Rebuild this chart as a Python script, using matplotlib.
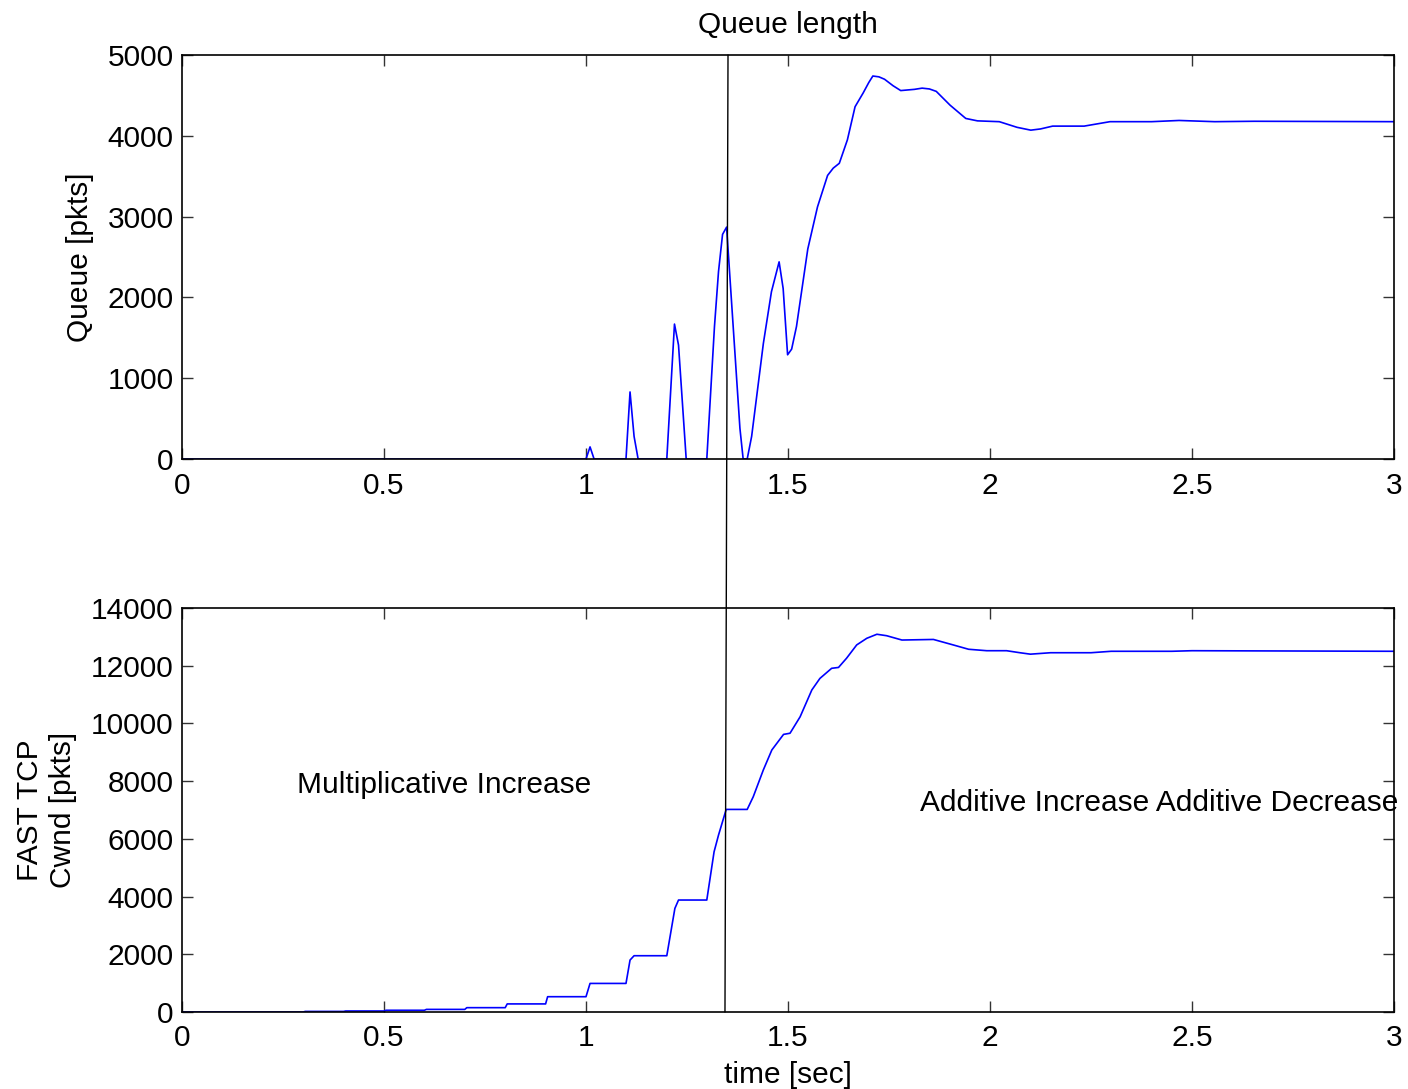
import matplotlib
matplotlib.use("Agg")
import matplotlib.pyplot as plt
from matplotlib.patches import ConnectionPatch

plt.rcParams['font.family'] = ['Liberation Sans', 'DejaVu Sans']

# ---- data ----
queue_t = [0, 1.0, 1.01, 1.02, 1.099, 1.109, 1.119, 1.129, 1.200, 1.219, 1.229, 1.248,
           1.299, 1.318, 1.328, 1.338, 1.348, 1.381, 1.389, 1.399, 1.410, 1.439, 1.459,
           1.478, 1.488, 1.499, 1.509, 1.521, 1.549, 1.573, 1.598, 1.612, 1.627, 1.647,
           1.666, 1.686, 1.700, 1.710, 1.725, 1.739, 1.760, 1.779, 1.813, 1.832, 1.850,
           1.867, 1.901, 1.940, 1.969, 2.023, 2.067, 2.101, 2.125, 2.155, 2.233, 2.297,
           2.400, 2.468, 2.556, 2.654, 3.0]
queue_q = [0, 0, 150, 0, 0, 830, 280, 0, 0, 1670, 1410, 0,
           0, 1640, 2320, 2780, 2870, 380, 0, 0, 280, 1430, 2070,
           2440, 2110, 1290, 1360, 1640, 2600, 3120, 3510, 3600, 3660, 3950,
           4360, 4530, 4660, 4740, 4730, 4700, 4620, 4560, 4575, 4590, 4580,
           4550, 4380, 4215, 4185, 4175, 4105, 4070, 4085, 4120, 4120, 4175,
           4175, 4190, 4175, 4180, 4175]

cwnd_t = [0, 0.3, 0.305, 0.4, 0.405, 0.5, 0.505, 0.6, 0.605, 0.7, 0.705, 0.8, 0.805,
          0.9, 0.905, 1.0, 1.01, 1.099, 1.109, 1.119, 1.2, 1.220, 1.229, 1.299, 1.317,
          1.328, 1.347, 1.399, 1.414, 1.439, 1.460, 1.489, 1.505, 1.530, 1.559, 1.579,
          1.608, 1.625, 1.645, 1.670, 1.695, 1.720, 1.744, 1.782, 1.860, 1.909, 1.947,
          1.992, 2.041, 2.074, 2.10, 2.15, 2.25, 2.30, 2.45, 2.5, 3.0]
cwnd_w = [0, 0, 20, 20, 35, 35, 60, 60, 90, 90, 150, 150, 280,
          280, 530, 530, 990, 990, 1800, 1950, 1950, 3590, 3880, 3880, 5550,
          6130, 7020, 7020, 7460, 8390, 9080, 9620, 9660, 10230, 11160, 11560,
          11910, 11940, 12260, 12720, 12950, 13090, 13040, 12890, 12910, 12720, 12570,
          12520, 12520, 12450, 12400, 12450, 12450, 12500, 12500, 12520, 12500]

xticks = [0, 0.5, 1, 1.5, 2, 2.5, 3]
xticklabels = ['0', '0.5', '1', '1.5', '2', '2.5', '3']
q_ticks = [0, 1000, 2000, 3000, 4000, 5000]
w_ticks = [0, 2000, 4000, 6000, 8000, 10000, 12000, 14000]

marker_t_top = 1.3515
marker_t_bottom = 1.344

# ---- figure ----
fig = plt.figure(figsize=(14.08, 10.89), dpi=100)
ax1 = fig.add_axes([0.12926, 0.5785, 0.8608, 0.37098])
ax2 = fig.add_axes([0.12926, 0.07071, 0.8608, 0.37098])

blue = '#0000ff'
ax1.plot(queue_t, queue_q, color=blue, lw=1.2)
ax2.plot(cwnd_t, cwnd_w, color=blue, lw=1.2)

ax1.set_xlim(0, 3)
ax1.set_ylim(0, 5000)
ax2.set_xlim(0, 3)
ax2.set_ylim(0, 14000)

fs = 21.5
for ax, yt in ((ax1, q_ticks), (ax2, w_ticks)):
    ax.set_xticks(xticks)
    ax.set_xticklabels(xticklabels)
    ax.set_yticks(yt)
    ax.set_yticklabels([str(v) for v in yt])
    ax.tick_params(axis='x', pad=9)
    ax.tick_params(axis='y', pad=6)
    ax.tick_params(direction='in', length=8, width=1, top=True, right=True,
                   labelsize=fs, color='#333333')
    for s in ax.spines.values():
        s.set_linewidth(1.2)
        s.set_color('black')

ax1.set_title('Queue length', fontsize=fs, pad=16)
ax1.set_ylabel('Queue [pkts]', fontsize=fs, labelpad=10)
ax2.set_ylabel('FAST TCP\nCwnd [pkts]', fontsize=fs, labelpad=10, linespacing=1.25)
ax2.set_xlabel('time [sec]', fontsize=fs, labelpad=6)

ax2.text(0.285, 7870, 'Multiplicative Increase', fontsize=fs, va='center', ha='left')
ax2.text(1.827, 7240, 'Additive Increase Additive Decrease', fontsize=fs,
         va='center', ha='left', clip_on=False)

con = ConnectionPatch(xyA=(marker_t_top, 5000), coordsA=ax1.transData,
                      xyB=(marker_t_bottom, 0), coordsB=ax2.transData,
                      color='black', lw=1.0)
fig.add_artist(con)

fig.savefig('out.png', dpi=100)
